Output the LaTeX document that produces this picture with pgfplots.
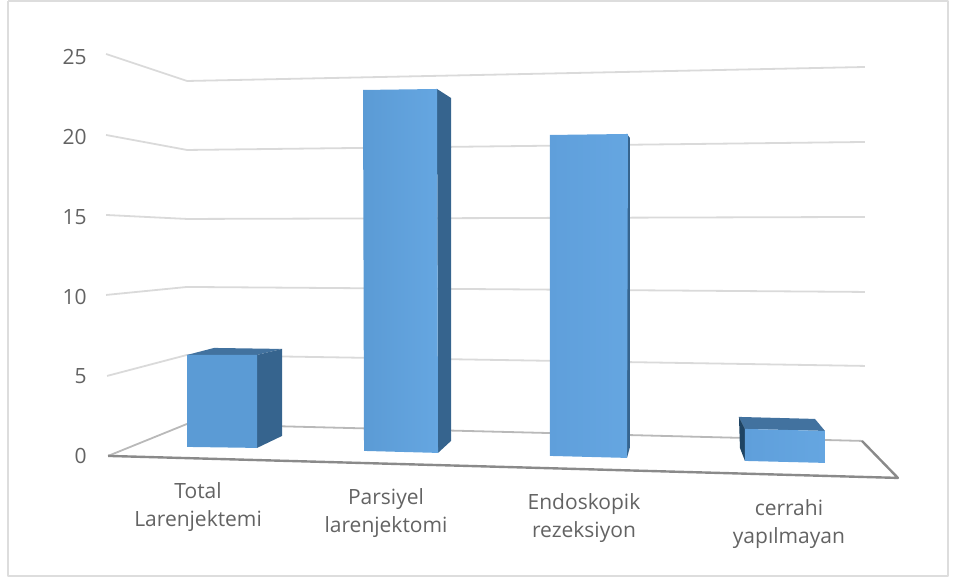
\documentclass[border=0pt]{standalone}
\usepackage{pgfplots}
\pgfplotsset{compat=1.18}
\usepackage{fontspec}
\setmainfont{Open Sans}
\definecolor{frontA}{HTML}{5B9BD5}
\definecolor{frontB}{HTML}{5F9FDB}
\definecolor{frontC}{HTML}{65A6E1}
\definecolor{sideR}{HTML}{36648E}
\definecolor{sideL}{HTML}{1F4463}
\definecolor{topF}{HTML}{42729F}
\definecolor{gridc}{HTML}{DADADA}
\definecolor{floorc}{HTML}{8A8A8A}
\definecolor{framec}{HTML}{DDDDDD}
\definecolor{txt}{HTML}{636363}
\begin{document}
\begin{tikzpicture}
\begin{axis}[
  scale only axis, width=957pt, height=579pt,
  xmin=0, xmax=957, ymin=0, ymax=579, y dir=reverse,
  axis line style={draw=none}, clip=true,
  xtick=\empty,
  ytick={456.5,376.5,297.5,217.5,137.5,57.5},
  yticklabels={0,5,10,15,20,25},
  major tick length=0pt,
  yticklabel style={text=txt, font=\fontsize{21}{23}\selectfont, anchor=east, xshift=90pt},
  /pgf/number format/assume math mode=true,
  every axis plot/.append style={line join=round},
]
% outer frame of the chart
\addplot[draw=framec, line width=2pt] coordinates {(8,1) (948,1) (948,576) (8,576) (8,1)};

% gridlines on the side and back walls
\addplot[draw=gridc, line width=1.8pt] coordinates {(106,54) (187,81) (865,67)};
\addplot[draw=gridc, line width=1.8pt] coordinates {(106,135) (187,150) (865,142)};
\addplot[draw=gridc, line width=1.8pt] coordinates {(106,215) (187,219) (865,217)};
\addplot[draw=gridc, line width=1.8pt] coordinates {(106,295) (187,287) (865,292)};
\addplot[draw=gridc, line width=1.8pt] coordinates {(107,376) (187,355) (865,366)};
\addplot[draw=gridc!85!black, line width=1.8pt] coordinates {(108,456) (187,424) (862,441)};

% floor edges
\addplot[draw=floorc, line width=2.4pt] coordinates {(108,456) (898,478) (862,441)};

% bar 1: Total Larenjektemi
\addplot[fill=topF, draw=none] coordinates {(187,355) (214,348) (282,349) (257,355)};
\addplot[fill=sideR, draw=none] coordinates {(257,355) (282,349) (282,436) (257,448)};
\addplot[fill=frontA, draw=none] coordinates {(187,355) (257,355) (257,448) (187,447)};

% bar 2: Parsiyel larenjektomi
\addplot[fill=sideR, draw=none] coordinates {(437,89) (451,98) (451,441) (438,453)};
\addplot[left color=frontA, right color=frontC, draw=none] coordinates {(363,90) (437,89) (438,453) (364,451)};

% bar 3: Endoskopik rezeksiyon
\addplot[fill=sideR, draw=none] coordinates {(627,134) (630,138) (630,447) (627,458)};
\addplot[left color=frontB, right color=frontC, draw=none] coordinates {(550,135) (628,134) (627,458) (550,456)};

% bar 4: cerrahi yapılmayan
\addplot[fill=topF, draw=none] coordinates {(739,417) (815,419) (825,431) (745,429)};
\addplot[fill=sideL, draw=none] coordinates {(739,417) (745,429) (745,461) (740,448)};
\addplot[left color=frontB, right color=frontC, draw=none] coordinates {(745,429) (825,431) (825,463) (745,461)};

% category labels follow the slant of the floor
\tikzset{cat/.style={text=txt, font=\fontsize{21}{28}\selectfont, align=center, anchor=center}}
\node[cat] at (axis cs:198,507.5) {Total\\Larenjektemi};
\node[cat] at (axis cs:386,513.5) {Parsiyel\\larenjektomi};
\node[cat] at (axis cs:584,518.5) {Endoskopik\\rezeksiyon};
\node[cat] at (axis cs:789,524.5) {cerrahi\\yapılmayan};
\end{axis}
\end{tikzpicture}
\end{document}
